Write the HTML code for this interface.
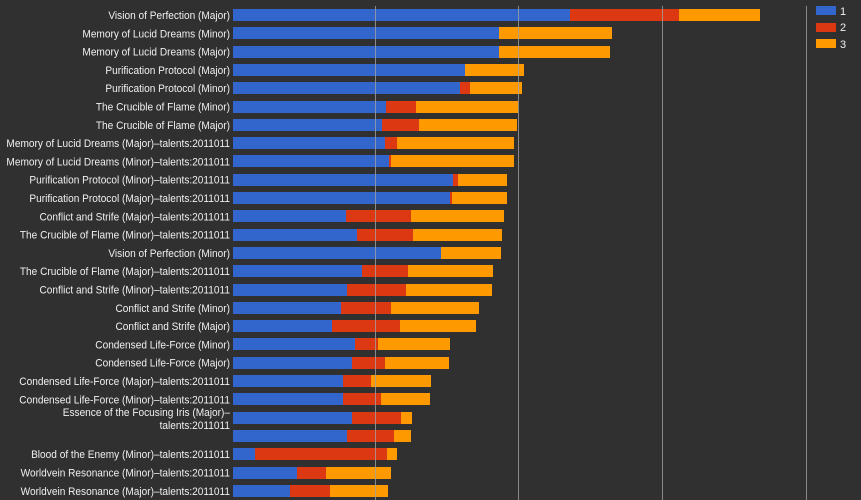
<!DOCTYPE html>
<html><head><meta charset="utf-8"><style>
html,body{margin:0;padding:0;background:#303030;}
svg{display:block;}
text{font-family:"Liberation Sans",Arial,sans-serif;font-size:11px;fill:#f0f0f0;}
</style></head><body>
<svg width="861" height="500" xmlns="http://www.w3.org/2000/svg">
<rect width="861" height="500" fill="#303030"/>
<g id="bars"></g>
<g stroke="#a0a0a0" stroke-width="1" opacity="0.8">
<line x1="375.5" y1="6" x2="375.5" y2="500"/>
<line x1="518.5" y1="6" x2="518.5" y2="500"/>
<line x1="662.5" y1="6" x2="662.5" y2="500"/>
<line x1="806.5" y1="6" x2="806.5" y2="500"/>
</g>
<rect x="816" y="6" width="20" height="9" fill="#3366cc"/>
<rect x="816" y="23" width="20" height="9" fill="#dc3912"/>
<rect x="816" y="39" width="20" height="9" fill="#ff9900"/>
<text x="840" y="15">1</text>
<text x="840" y="31">2</text>
<text x="840" y="48">3</text>
<g id="labels" text-anchor="end" transform="translate(230,0) scale(0.92,1) translate(-230,0)"></g>
</svg>
<script>
var d=[
["Vision of Perfection (Major)",570,679,760],
["Memory of Lucid Dreams (Minor)",499,499,612],
["Memory of Lucid Dreams (Major)",499,499,610],
["Purification Protocol (Major)",465,465,524],
["Purification Protocol (Minor)",460,470,522],
["The Crucible of Flame (Minor)",386,416,518],
["The Crucible of Flame (Major)",382,419,517],
["Memory of Lucid Dreams (Major)\u2013talents:2011011",385,397,514],
["Memory of Lucid Dreams (Minor)\u2013talents:2011011",389,391,514],
["Purification Protocol (Minor)\u2013talents:2011011",453,458,507],
["Purification Protocol (Major)\u2013talents:2011011",450,452,507],
["Conflict and Strife (Major)\u2013talents:2011011",346,411,504],
["The Crucible of Flame (Minor)\u2013talents:2011011",357,413,502],
["Vision of Perfection (Minor)",441,441,501],
["The Crucible of Flame (Major)\u2013talents:2011011",362,408,493],
["Conflict and Strife (Minor)\u2013talents:2011011",347,406,492],
["Conflict and Strife (Minor)",341,391,479],
["Conflict and Strife (Major)",332,400,476],
["Condensed Life-Force (Minor)",355,378,450],
["Condensed Life-Force (Major)",352,385,449],
["Condensed Life-Force (Major)\u2013talents:2011011",343,371,431],
["Condensed Life-Force (Minor)\u2013talents:2011011",343,381,430],
["",352,401,412],
["",347,394,411],
["Blood of the Enemy (Minor)\u2013talents:2011011",255,387,397],
["Worldvein Resonance (Minor)\u2013talents:2011011",297,326,391],
["Worldvein Resonance (Major)\u2013talents:2011011",290,330,388]];
var NS="http://www.w3.org/2000/svg",b=document.getElementById("bars"),l=document.getElementById("labels");
function r(x1,x2,y,c){if(x2<=x1)return;var e=document.createElementNS(NS,"rect");e.setAttribute("x",x1);e.setAttribute("y",y);e.setAttribute("width",x2-x1);e.setAttribute("height",12);e.setAttribute("fill",c);b.appendChild(e);}
function t(s,y){var e=document.createElementNS(NS,"text");e.setAttribute("x",230);e.setAttribute("y",y);e.textContent=s;l.appendChild(e);}
d.forEach(function(v,i){var cy=15+i*18.3;var y=Math.round(cy-6);r(233,v[1],y,"#3366cc");r(v[1],v[2],y,"#dc3912");r(v[2],v[3],y,"#ff9900");if(v[0])t(v[0],cy+4);});
t("Essence of the Focusing Iris (Major)\u2013",416);
t("talents:2011011",429);
</script>
</body></html>
